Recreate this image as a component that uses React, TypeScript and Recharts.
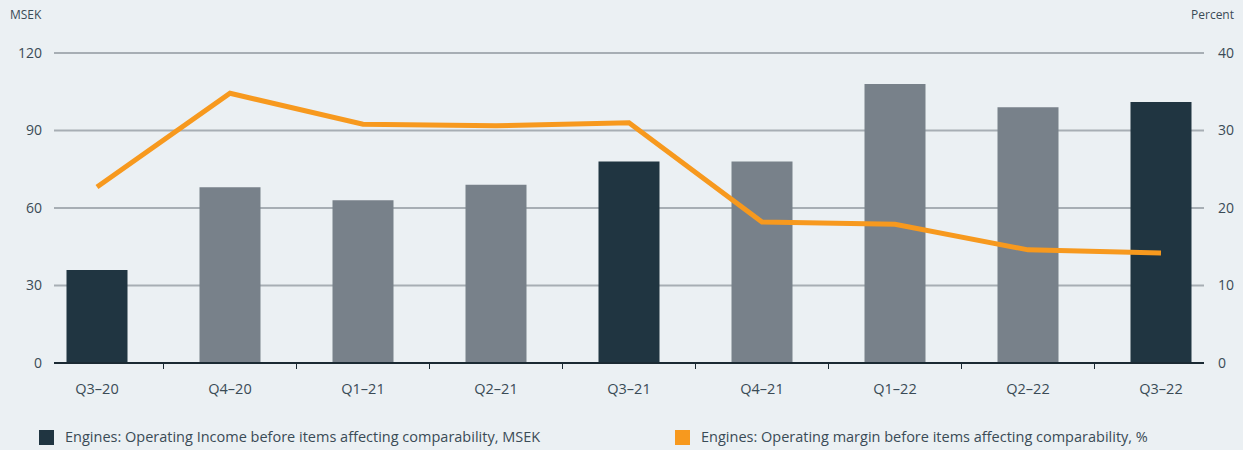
import { Bar, CartesianGrid, Cell, ComposedChart, Label, Legend, Line, XAxis, YAxis } from 'recharts';

const quarters = ['Q3–20', 'Q4–20', 'Q1–21', 'Q2–21', 'Q3–21', 'Q4–21', 'Q1–22', 'Q2–22', 'Q3–22'];
const operatingIncome = [36, 68, 63, 69, 78, 78, 108, 99, 101];
const operatingMargin = [22.7, 34.8, 30.8, 30.6, 31.0, 18.2, 17.9, 14.6, 14.2];
const incomeTicks = [0, 30, 60, 90, 120];
const marginTicks = [0, 10, 20, 30, 40];

const incomeLabel = 'Engines: Operating Income before items affecting comparability, MSEK';
const marginLabel = 'Engines: Operating margin before items affecting comparability, %';

const data = quarters.map((quarter, i) => ({
  quarter,
  income: operatingIncome[i],
  margin: operatingMargin[i],
}));

const FONT = '"Open Sans", "Noto Sans", sans-serif';
const TEXT = '#3a4b56';
const DARK = '#203541';
const GREY = '#78818a';
const ORANGE = '#f7991e';

function QuarterTick(props: any) {
  const { x, y, payload, index } = props;
  const half = payload.offset ?? 0;
  return (
    <g>
      {index > 0 && <line x1={x - half} x2={x - half} y1={y} y2={y + 6} stroke="#1b2a33" strokeWidth={1} />}
      <text x={x} y={y + 31} textAnchor="middle" fill={TEXT} fontSize={14.5} fontFamily={FONT}>
        {payload.value}
      </text>
    </g>
  );
}

function UnitLabel({ viewBox, value, side }: any) {
  const left = side === 'left';
  return (
    <text
      x={left ? viewBox.x + 10 : viewBox.x + viewBox.width - 9}
      y={viewBox.y - 34}
      textAnchor={left ? 'start' : 'end'}
      fill={TEXT}
      fontSize={12}
      fontFamily={FONT}
    >
      {value}
    </text>
  );
}

function ChartLegend() {
  const item = (left: number, color: string, text: string) => (
    <div style={{ position: 'absolute', left, top: 22, height: 15 }}>
      <div style={{ position: 'absolute', left: 0, top: 0, width: 15, height: 15, background: color }} />
      <div
        style={{
          position: 'absolute',
          left: 26,
          top: -3,
          whiteSpace: 'nowrap',
          fontSize: 14.5,
          lineHeight: '20px',
          color: TEXT,
          fontFamily: FONT,
        }}
      >
        {text}
      </div>
    </div>
  );
  return (
    <div style={{ position: 'relative', height: 42, width: 1243 }}>
      {item(39, DARK, incomeLabel)}
      {item(675, ORANGE, marginLabel)}
    </div>
  );
}

export default function App() {
  return (
    <div style={{ position: 'absolute', left: 0, top: 0, width: 1243, height: 450, background: '#ebf0f3' }}>
      <ComposedChart width={1243} height={450} data={data} margin={{ top: 53, right: 0, left: 0, bottom: 0 }}>
        <CartesianGrid yAxisId="left" vertical={false} stroke="#a7aeb4" strokeWidth={2} />
        <XAxis
          dataKey="quarter"
          height={45}
          padding={{ left: -23.5, right: -23.5 }}
          tick={<QuarterTick />}
          tickLine={false}
          tickSize={0}
          tickMargin={0}
          axisLine={{ stroke: '#1b2a33', strokeWidth: 2 }}
          interval={0}
        />
        <YAxis
          yAxisId="left"
          width={54}
          domain={[0, 120]}
          ticks={incomeTicks}
          axisLine={false}
          tickLine={false}
          tickSize={0}
          tickMargin={12}
          tick={{ fill: TEXT, fontSize: 14, fontFamily: FONT }}
        >
          <Label content={<UnitLabel side="left" />} value="MSEK" />
        </YAxis>
        <YAxis
          yAxisId="right"
          orientation="right"
          width={39}
          domain={[0, 40]}
          ticks={marginTicks}
          axisLine={false}
          tickLine={false}
          tickSize={0}
          tickMargin={14}
          tick={{ fill: TEXT, fontSize: 14, fontFamily: FONT, textAnchor: 'start' }}
        >
          <Label content={<UnitLabel side="right" />} value="Percent" />
        </YAxis>
        <Bar yAxisId="left" dataKey="income" barSize={61} isAnimationActive={false}>
          {quarters.map((q) => (
            <Cell key={q} fill={q.startsWith('Q3') ? DARK : GREY} />
          ))}
        </Bar>
        <Line
          yAxisId="right"
          dataKey="margin"
          type="linear"
          stroke={ORANGE}
          strokeWidth={5}
          dot={false}
          activeDot={false}
          isAnimationActive={false}
        />
        <Legend verticalAlign="bottom" content={<ChartLegend />} wrapperStyle={{ left: 0, bottom: 0, width: 1243 }} />
      </ComposedChart>
    </div>
  );
}
